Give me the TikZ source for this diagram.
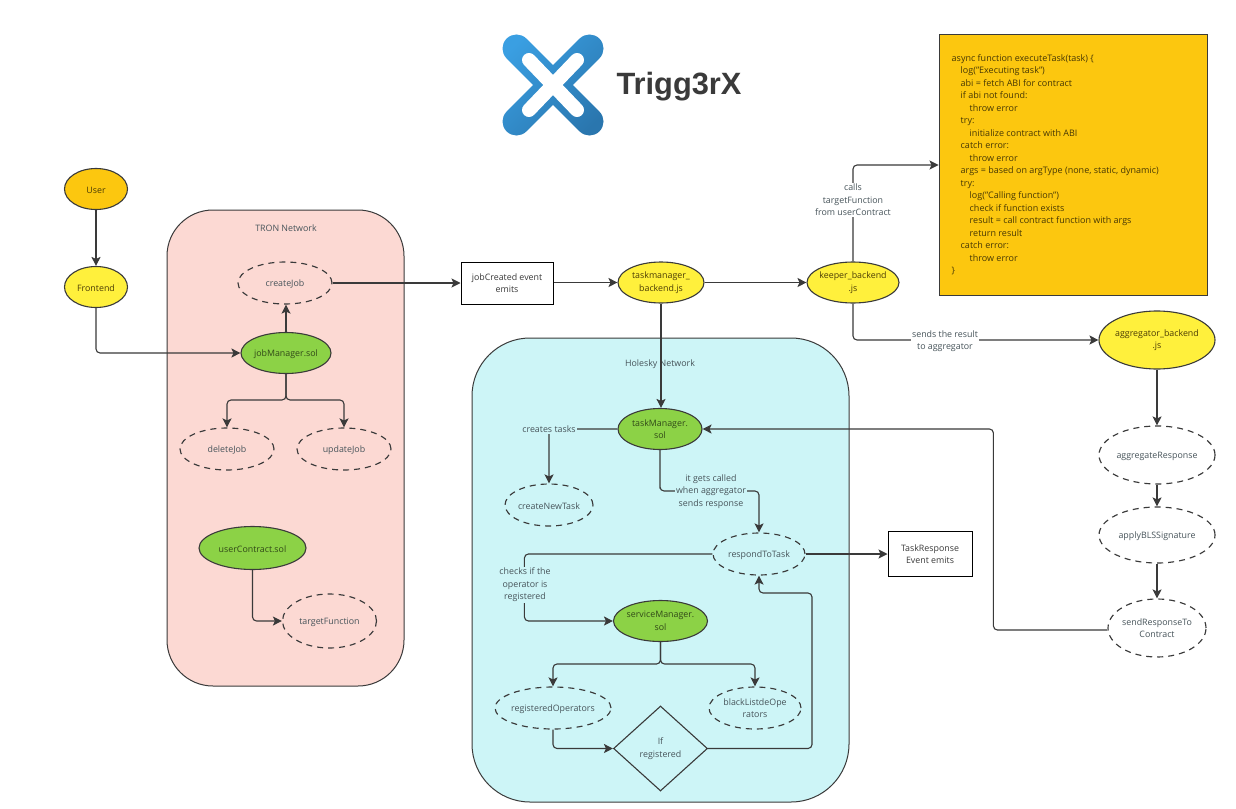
\documentclass[tikz,border=0pt]{standalone}
\usepackage{fontspec}
\setmainfont{Open Sans}
\newfontfamily\logofont{Liberation Sans}
\usetikzlibrary{shapes.geometric,arrows.meta}
\definecolor{ink}{HTML}{3A3A3A}
\definecolor{txt}{HTML}{47545A}
\definecolor{pinkbg}{HTML}{FCD9D3}
\definecolor{cyanbg}{HTML}{CDF5F7}
\definecolor{amber}{HTML}{FCC70F}
\definecolor{lemon}{HTML}{FFF03C}
\definecolor{leaf}{HTML}{8CD246}
\definecolor{logoa}{HTML}{3A9FE2}
\definecolor{logob}{HTML}{2A76AE}
\tikzset{
  x=1pt,y=-1pt,
  every node/.style={font=\fontsize{8.85}{12.5}\selectfont,text=txt,align=center},
  oval/.style={ellipse,draw=ink,line width=1.1pt,inner xsep=-22pt,inner ysep=-10pt,minimum width=#1,execute at begin node={\rule{0pt}{9.5pt}}},
  oval/.default=63pt,
  solidamber/.style={oval,fill=amber,minimum height=41pt,text=black!70!amber},
  solidlemon/.style={oval,fill=lemon,minimum height=41pt,text=black!70!amber},
  solidleaf/.style={oval,fill=leaf,minimum height=41pt,text=black!65!leaf},
  dashoval/.style={ellipse,draw=ink,line width=1.15pt,dash pattern=on 6pt off 5pt,inner xsep=-22pt,inner ysep=-10pt,minimum width=#1,minimum height=42pt,execute at begin node={\rule{0pt}{9.5pt}}},
  dashoval/.default=94pt,
  plainbox/.style={rectangle,draw=black,fill=white,line width=1pt,inner sep=0pt,text=ink},
  region/.style={draw=ink,line width=1pt},
  conn/.style={draw=ink,line width=1.1pt,rounded corners=4pt,-{Stealth[length=9pt,width=9pt,inset=2pt]}},
  lab/.style={inner sep=1.5pt},
}
\begin{document}
\begin{tikzpicture}
\useasboundingbox (0,0) rectangle (1236,808);
\fill[white] (0,0) rectangle (1236,808);

% regions
\draw[region,fill=pinkbg,rounded corners=46pt] (167,210) rectangle (404,686);
\draw[region,fill=cyanbg,rounded corners=58pt] (472,338) rectangle (849,802);
\node[inner sep=0pt] (tronlab) at (286,228) {TRON Network};
\node[inner sep=0pt] (holeskylab) at (660,364) {Holesky Network};

% logo
\path[rounded corners=14pt,top color=logoa,bottom color=logob,shading angle=45]
  (553,65.2) -- (589.5,28.7) -- (609.3,48.5) [sharp corners] -- (572.8,85) [rounded corners=14pt]
  -- (609.3,121.5) -- (589.5,141.3) [sharp corners] -- (553,104.8) [rounded corners=14pt]
  -- (516.5,141.3) -- (496.7,121.5) [sharp corners] -- (533.2,85) [rounded corners=14pt]
  -- (496.7,48.5) -- (516.5,28.7) [sharp corners] -- cycle;
\draw[white,line width=14pt,line cap=round] (529,60) -- (577,110) (577,60) -- (529,110);
\node[inner sep=0pt,text=ink,font=\logofont\bfseries\fontsize{30.8}{32}\selectfont] (logotext) at (679,87) {Trigg3rX};

% nodes
\node[solidamber] (user) at (96,189) {User};
\node[solidlemon] (front) at (96,287) {Frontend};
\node[solidleaf,minimum width=90pt] (jobm) at (286,353) {jobManager.sol};
\node[dashoval] (create) at (285,283) {createJob};
\node[dashoval] (del) at (227,449) {deleteJob};
\node[dashoval] (upd) at (344,449) {updateJob};
\node[solidleaf,minimum width=107pt,minimum height=43pt] (userc) at (252.5,548) {userContract.sol};
\node[dashoval,minimum height=54pt] (target) at (329.5,621) {targetFunction};
\node[plainbox,minimum width=92pt,minimum height=42pt] (emit) at (507,283) {jobCreated event\\emits};
\node[solidlemon,minimum width=86pt] (tmb) at (661,282.5) {taskmanager\_\\backend.js};
\node[solidlemon,minimum width=92pt] (kb) at (853,282.5) {keeper\_backend\\.js};
\node[rectangle,draw=ink,line width=1pt,fill=amber,minimum width=268pt,minimum height=260pt,inner sep=0pt] (code) at (1073,165) {};
\node[anchor=north west,inner sep=0pt,align=left,text=black!72!amber,font=\fontsize{9}{12.5}\selectfont] (codetext) at (951.5,54) {%
async function executeTask(task) \{\\
\hspace*{9pt}log("Executing task")\\
\hspace*{9pt}abi = fetch ABI for contract\\
\hspace*{9pt}if abi not found:\\
\hspace*{18pt}throw error\\
\hspace*{9pt}try:\\
\hspace*{18pt}initialize contract with ABI\\
\hspace*{9pt}catch error:\\
\hspace*{18pt}throw error\\
\hspace*{9pt}args = based on argType (none, static, dynamic)\\
\hspace*{9pt}try:\\
\hspace*{18pt}log("Calling function")\\
\hspace*{18pt}check if function exists\\
\hspace*{18pt}result = call contract function with args\\
\hspace*{18pt}return result\\
\hspace*{9pt}catch error:\\
\hspace*{18pt}throw error\\
\}};
\node[solidlemon,minimum width=116pt,minimum height=58pt] (agg) at (1157,340) {aggregator\_backend\\.js};
\node[dashoval,minimum width=116pt,minimum height=58pt] (aggr) at (1157,455) {aggregateResponse};
\node[dashoval,minimum width=116pt,minimum height=56pt] (bls) at (1157,535) {applyBLSSignature};
\node[dashoval,minimum width=98pt,minimum height=58pt] (send) at (1157,628) {sendResponseTo\\Contract};
\node[solidleaf,minimum width=84pt] (tm) at (660,429) {taskManager.\\sol};
\node[dashoval,minimum width=88pt] (newtask) at (549,505) {createNewTask};
\node[dashoval,minimum width=92pt] (respond) at (759,554) {respondToTask};
\node[solidleaf,minimum width=94pt] (sm) at (660.5,621) {serviceManager.\\sol};
\node[dashoval,minimum width=116pt] (regop) at (553,708) {registeredOperators};
\node[dashoval,minimum width=92pt] (black) at (755,708) {blackListdeOpe\\rators};
\node[diamond,draw=ink,line width=1.1pt,inner sep=0pt,minimum width=94pt,minimum height=85pt] (ifreg) at (660.5,748.5) {If\\registered};
\node[plainbox,minimum width=84pt,minimum height=45pt] (resp) at (930,554) {TaskResponse\\Event emits};

% connector waypoints
\coordinate (jobsplit) at (286,400);
\coordinate (smsplit) at (660.5,664);
\coordinate (tmbend) at (660,491);
\coordinate (ret) at (812,593);

% connectors
\draw[conn] (user) -- (front);
\draw[conn] (front.south) |- (jobm.west);
\draw[conn] (jobm.north) -- (jobm.north |- create.south);
\draw[conn] (jobm.south) |- (jobsplit) -| (del.north);
\draw[conn] (jobm.south) |- (jobsplit) -| (upd.north);
\draw[conn] (userc.south) |- (target.west);
\draw[conn] (create.east) -- (emit.west |- create.east);
\draw[conn] (emit.east |- tmb.west) -- (tmb.west);
\draw[conn] (tmb.east) -- (kb.west);
\draw[conn] (tmb.south) -- (tmb.south |- tm.north);
\draw[conn] (kb.north) |- (code.west);
\draw[conn] (kb.south) |- (agg.west);
\draw[conn] (agg) -- (aggr);
\draw[conn] (aggr) -- (bls);
\draw[conn] (bls) -- (send);
\draw[conn] ([yshift=-2pt]send.west) -- ++(-114,0) -- ++(0,-201) -- (tm.east);
\draw[conn] (tm.west) -| (newtask.north);
\draw[conn] (tm.south) |- (tmbend) -| (respond.north);
\draw[conn] (respond.west) -- ++(-188,0) |- (sm.west);
\draw[conn] (respond.east) -- (resp.west);
\draw[conn] (sm.south) |- (smsplit) -| (regop.north);
\draw[conn] (sm.south) |- (smsplit) -| (black.north);
\draw[conn] (regop.south) |- (ifreg.west);
\draw[conn] (ifreg.east) -| (ret) -| (respond.south);

% connector labels
\node[lab,fill=white] (callslab) at (853,200) {calls\\targetFunction\\from userContract};
\node[lab,fill=white] (sendslab) at (945,341) {sends the result\\to aggregator};
\node[lab,fill=cyanbg] (createslab) at (549,429) {creates tasks};
\node[lab,fill=cyanbg] (calledlab) at (711,491.5) {it gets called\\when aggregator\\sends response};
\node[lab,fill=cyanbg] (checkslab) at (525,585) {checks if the\\operator is\\registered};
\end{tikzpicture}
\end{document}
